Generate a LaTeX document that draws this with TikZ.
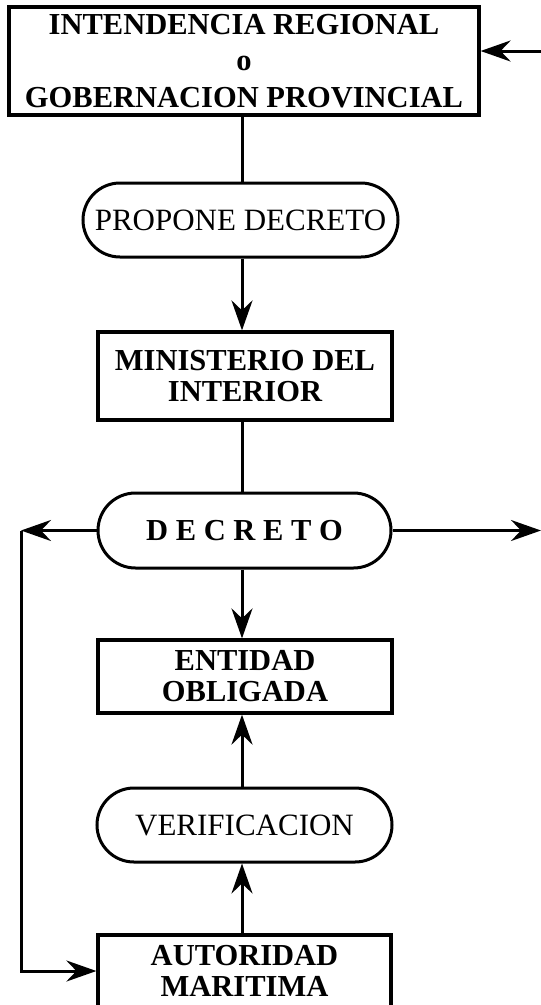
\documentclass[tikz,border=0pt]{standalone}
\usepackage{fontspec}
\setmainfont{Liberation Serif}
\usetikzlibrary{arrows.meta,shapes.misc}
\begin{document}
\begin{tikzpicture}[x=1pt,y=-1pt,
  every node/.style={inner sep=0pt, align=center, font=\fontsize{31}{31}\selectfont},
  bold/.style={font=\bfseries\fontsize{30.5}{31}\selectfont},
  box/.style={draw, line width=3.2pt, rectangle},
  pill/.style={draw, line width=3pt, rounded rectangle},
  conn/.style={line width=3pt},
  arr/.style={conn, -{Stealth[length=30pt,width=21pt,inset=10pt]}},
]
\useasboundingbox (0,0) rectangle (541,1005);
\clip (0,0) rectangle (541,1005);

\node[box, minimum width=470pt, minimum height=108pt, font=\bfseries\fontsize{30.5}{36.5}\selectfont] (top) at (244,61) {INTENDENCIA REGIONAL\\o\\GOBERNACION PROVINCIAL};
\node[pill, minimum width=315pt, minimum height=74pt] (prop) at (240.5,220) {PROPONE DECRETO};
\node[box, bold, minimum width=294pt, minimum height=88pt] (min) at (245,376) {MINISTERIO DEL\\INTERIOR};
\node[pill, bold, minimum width=293pt, minimum height=75pt] (dec) at (244.5,530.5) {D E C R E T O};
\node[box, bold, minimum width=294pt, minimum height=73pt] (ent) at (245,676.5) {ENTIDAD\\OBLIGADA};
\node[pill, minimum width=295pt, minimum height=74pt] (ver) at (244.5,825) {VERIFICACION};
\node[box, bold, minimum width=293pt, minimum height=72pt] (aut) at (244.5,971) {AUTORIDAD\\MARITIMA};

\coordinate (axis) at (242,0);
\coordinate (inR) at (541,51);
\coordinate (outR) at (541,530.5);
\coordinate (L) at (21,530.5);

\draw[conn] (top.south -| axis) -- (prop.north -| axis);
\draw[arr] (prop.south -| axis) -- (min.north -| axis);
\draw[conn] (min.south -| axis) -- (dec.north -| axis);
\draw[arr] (dec.south -| axis) -- (ent.north -| axis);
\draw[arr] (ver.north -| axis) -- (ent.south -| axis);
\draw[arr] (aut.north -| axis) -- (ver.south -| axis);
\draw[arr] (inR) -- (inR -| top.east);
\draw[arr] (dec.east) -- (outR);
\draw[arr] (dec.west) -- (L);
\draw[arr] (L) -- (L |- aut.west) -- (aut.west);
\end{tikzpicture}
\end{document}
